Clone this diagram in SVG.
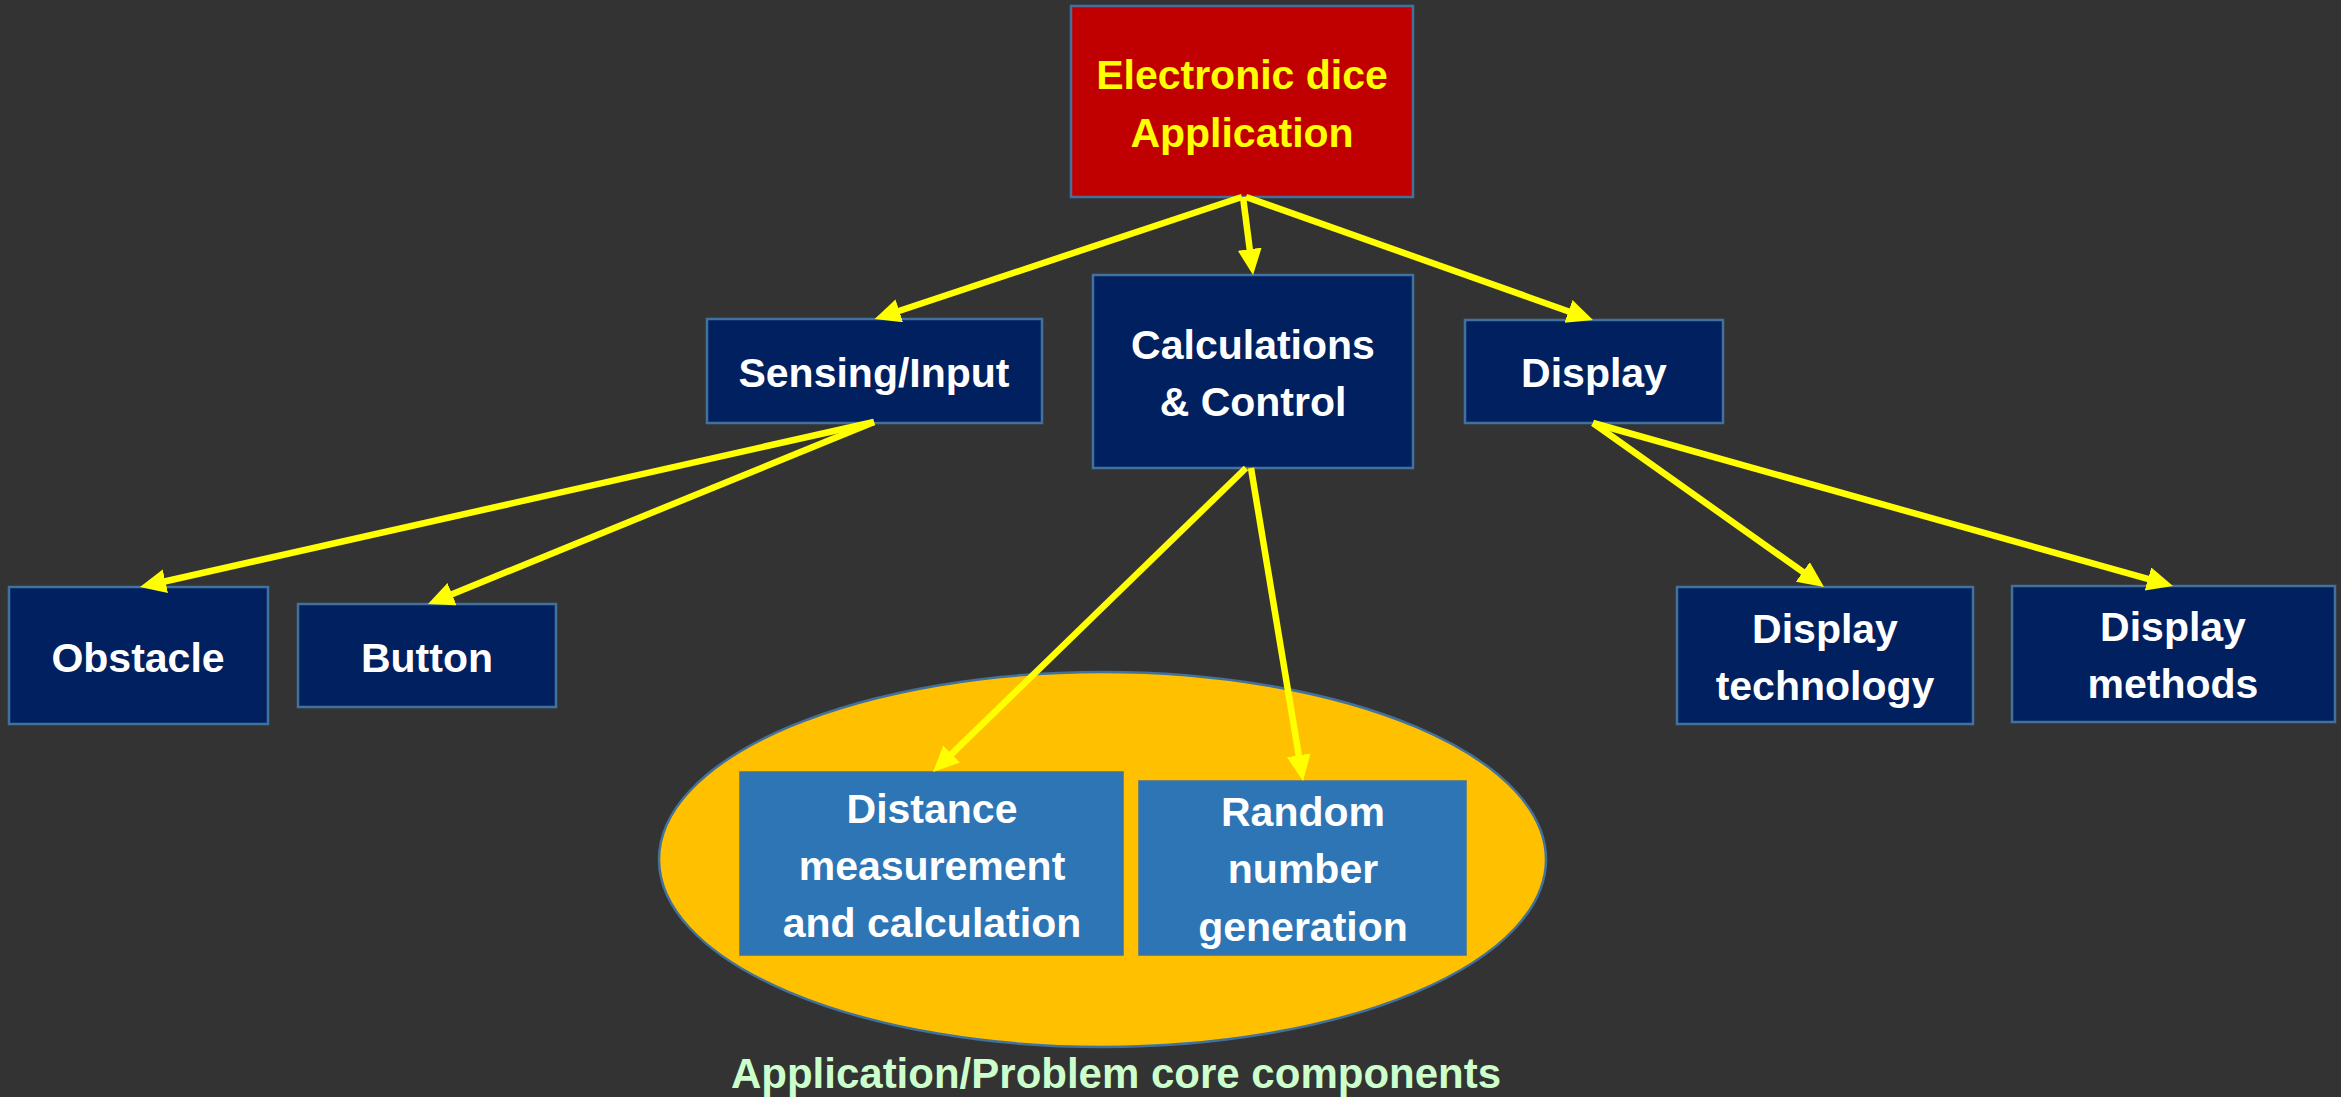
<svg xmlns="http://www.w3.org/2000/svg" width="2341" height="1097" viewBox="0 0 2341 1097">
  <defs>
    <marker id="arrow" markerUnits="userSpaceOnUse" markerWidth="27" markerHeight="25" refX="10" refY="12" orient="auto">
      <path d="M0,0 L26,12 L0,24 z" fill="#FFFF00"/>
    </marker>
    <style>
      .box { fill: #002060; stroke: #41719C; stroke-width: 2.5; }
      .root { fill: #C00000; stroke: #41719C; stroke-width: 2.5; }
      .core { fill: #2E75B6; stroke: #41719C; stroke-width: 1.5; }
      .lbl { font-family: "Liberation Sans", Arial, sans-serif; font-weight: bold; font-size: 41px; fill: #FFFFFF; text-anchor: middle; }
      .rootlbl { fill: #FFFF00; }
      .edge { stroke: #FFFF00; stroke-width: 6.5; fill: none; marker-end: url(#arrow); }
      .caption { font-family: "Liberation Sans", Arial, sans-serif; font-weight: bold; font-size: 42px; fill: #CCFFCC; text-anchor: middle; }
    </style>
  </defs>

  <rect x="0" y="0" width="2341" height="1097" fill="#333333"/>

  <!-- core components area -->
  <g id="core-area">
    <ellipse cx="1102.5" cy="859.5" rx="443.5" ry="187.5" fill="#FFC000" stroke="#41719C" stroke-width="2.5"/>
    <text class="caption" x="1116" y="1088">Application/Problem core components</text>
  </g>

  <g id="root">
    <rect class="root" x="1071" y="6" width="342" height="191"/>
    <text class="lbl rootlbl" x="1242" y="89">Electronic dice</text>
    <text class="lbl rootlbl" x="1242" y="147">Application</text>
  </g>

  <g id="sensing">
    <rect class="box" x="707" y="319" width="335" height="104"/>
    <text class="lbl" x="874" y="387">Sensing/Input</text>
  </g>

  <g id="calc">
    <rect class="box" x="1093" y="275" width="320" height="193"/>
    <text class="lbl" x="1253" y="359">Calculations</text>
    <text class="lbl" x="1253" y="416">&amp; Control</text>
  </g>

  <g id="display">
    <rect class="box" x="1465" y="320" width="258" height="103"/>
    <text class="lbl" x="1594" y="387">Display</text>
  </g>

  <g id="obstacle">
    <rect class="box" x="9" y="587" width="259" height="137"/>
    <text class="lbl" x="138" y="672">Obstacle</text>
  </g>

  <g id="button">
    <rect class="box" x="298" y="604" width="258" height="103"/>
    <text class="lbl" x="427" y="672">Button</text>
  </g>

  <g id="display-technology">
    <rect class="box" x="1677" y="587" width="296" height="137"/>
    <text class="lbl" x="1825" y="643">Display</text>
    <text class="lbl" x="1825" y="700">technology</text>
  </g>

  <g id="display-methods">
    <rect class="box" x="2012" y="586" width="323" height="136"/>
    <text class="lbl" x="2173" y="641">Display</text>
    <text class="lbl" x="2173" y="698">methods</text>
  </g>

  <g id="distance">
    <rect class="core" x="740" y="772" width="383" height="183"/>
    <text class="lbl" x="932" y="823">Distance</text>
    <text class="lbl" x="932" y="880">measurement</text>
    <text class="lbl" x="932" y="937">and calculation</text>
  </g>

  <g id="random">
    <rect class="core" x="1139" y="781" width="327" height="174"/>
    <text class="lbl" x="1303" y="826">Random</text>
    <text class="lbl" x="1303" y="883">number</text>
    <text class="lbl" x="1303" y="941">generation</text>
  </g>

  <!-- connectors: each line stops 16px short of its target, the marker tip reaches the box edge -->
  <g id="connectors">
    <line class="edge" x1="1242" y1="197" x2="889.8" y2="314.0"/>
    <line class="edge" x1="1243" y1="197" x2="1251.0" y2="259.1"/>
    <line class="edge" x1="1246" y1="197" x2="1577.9" y2="314.7"/>
    <line class="edge" x1="874" y1="422" x2="155.6" y2="583.5"/>
    <line class="edge" x1="874" y1="422" x2="442.8" y2="598.0"/>
    <line class="edge" x1="1246" y1="468" x2="944.5" y2="760.9"/>
    <line class="edge" x1="1251" y1="468" x2="1300.4" y2="765.2"/>
    <line class="edge" x1="1593" y1="423" x2="1811.0" y2="577.7"/>
    <line class="edge" x1="1593" y1="423" x2="2157.6" y2="581.7"/>
  </g>
</svg>
